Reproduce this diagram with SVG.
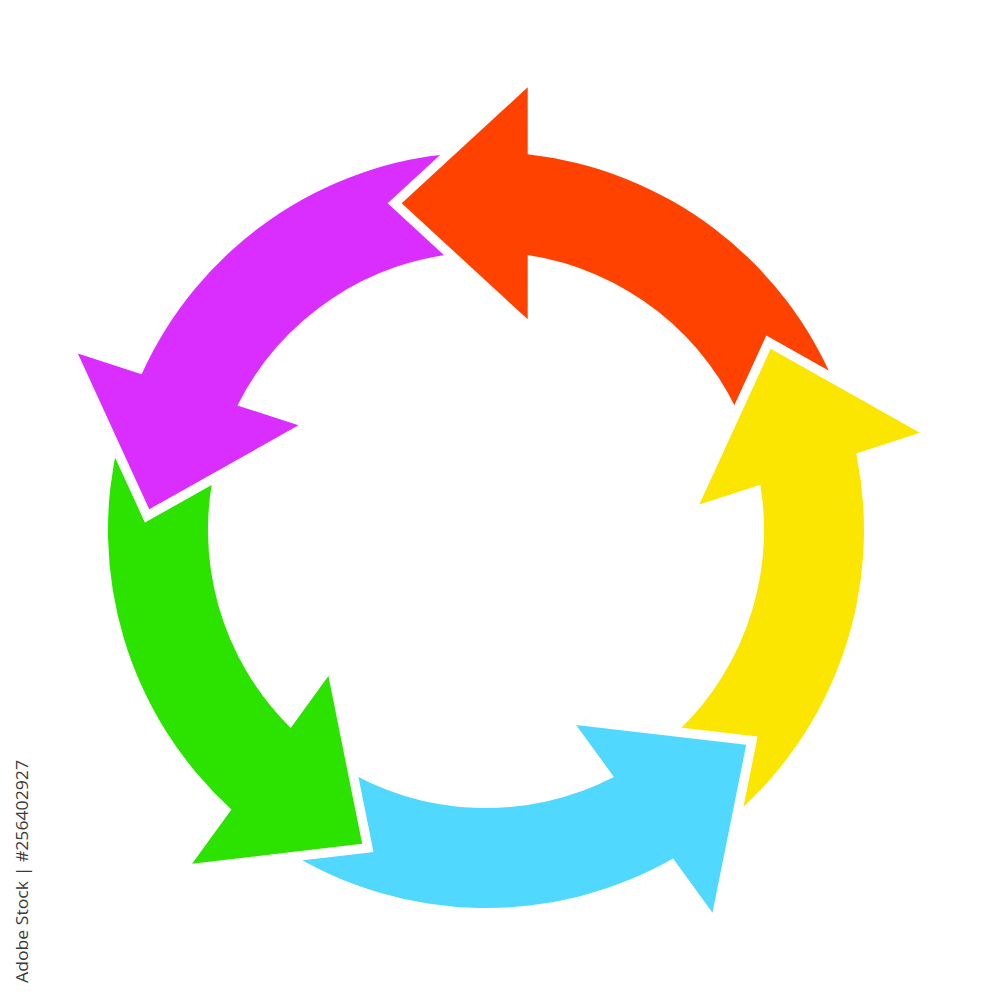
<svg xmlns="http://www.w3.org/2000/svg" width="1000" height="1000" viewBox="0 0 1000 1000">
  <style>
    .arrow { stroke: #ffffff; stroke-width: 19; stroke-linejoin: miter; stroke-miterlimit: 6; paint-order: stroke; }
    .red { fill: #FF4200; }
    .yellow { fill: #FAE600; }
    .cyan { fill: #50D8FF; }
    .green { fill: #2CE300; }
    .purple { fill: #D92EFF; }
    .credit { font-family: "Open Sans", "Liberation Sans", sans-serif; font-size: 17px; fill: #3a3a3a; }
  </style>
  <defs>
    <path id="arrowShape" d="M 401.7 203.3 L 527.7 87.3 L 527.7 154.3 A 378 378 0 0 1 836.5 388.4 L 743.8 425.9 A 278 278 0 0 0 527.7 255.1 L 527.7 319.3 Z"/>
    <clipPath id="redHeadClip">
      <rect x="360" y="45" width="240" height="305"/>
    </clipPath>
  </defs>
  <rect x="0" y="0" width="1000" height="1000" fill="#ffffff"/>
  <g id="connectors"/>
  <g id="arrow-red">
    <use href="#arrowShape" class="arrow red"/>
  </g>
  <g id="arrow-yellow">
    <use href="#arrowShape" class="arrow yellow" transform="rotate(72 486 530)"/>
  </g>
  <g id="arrow-cyan">
    <use href="#arrowShape" class="arrow cyan" transform="rotate(144 486 530)"/>
  </g>
  <g id="arrow-green">
    <use href="#arrowShape" class="arrow green" transform="rotate(216 486 530)"/>
  </g>
  <g id="arrow-purple">
    <use href="#arrowShape" class="arrow purple" transform="rotate(288 486 530)"/>
  </g>
  <g id="arrow-red-head">
    <use href="#arrowShape" class="arrow red" clip-path="url(#redHeadClip)"/>
  </g>
  <g id="credit">
    <text class="credit" transform="translate(28 983) rotate(-90)" x="0" y="0" textLength="223" lengthAdjust="spacingAndGlyphs">Adobe Stock | #256402927</text>
  </g>
</svg>
